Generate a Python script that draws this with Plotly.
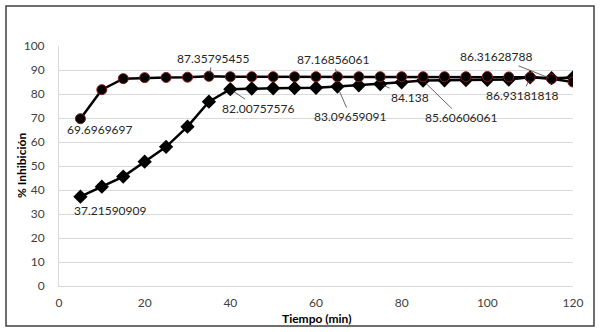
import plotly.graph_objects as go

tiempo = [5, 10, 15, 20, 25, 30, 35, 40, 45, 50, 55, 60, 65, 70, 75, 80, 85, 90, 95, 100, 105, 110, 115, 120]
serie_circulos = [69.6969697, 81.8, 86.4, 86.8, 86.9, 87.0, 87.35795455, 87.2, 87.2, 87.2, 87.2, 87.2,
                  87.16856061, 87.2, 87.2, 87.2, 87.2, 87.2, 87.2, 87.3, 87.1, 87.0, 86.31628788, 85.0]
serie_diamantes = [37.21590909, 41.4, 45.6, 51.8, 58.0, 66.4, 76.8, 82.00757576, 82.3, 82.4, 82.5, 82.6,
                   83.09659091, 83.6, 84.138, 84.9, 85.60606061, 85.7, 85.8, 85.9, 86.0, 86.93181818, 86.6, 86.9]

x_ticks = [0, 20, 40, 60, 80, 100, 120]
y_ticks = [0, 10, 20, 30, 40, 50, 60, 70, 80, 90, 100]
x_title = "Tiempo (min)"
y_title = "% Inhibición"

# labelled points: (series, index, text offset x, offset y, leader line)
etiquetas = [
    ("c", 0, 20, 11, False),
    ("d", 0, 30, 14, False),
    ("c", 6, 4, -18, True),
    ("d", 7, 28, 19, True),
    ("c", 12, -4, -17, True),
    ("d", 12, 13, 30, True),
    ("d", 14, 30, 13, True),
    ("d", 16, 38, 37, True),
    ("c", 22, -56, -22, True),
    ("d", 21, -8, 18, True),
]

FONT = "Lato, Open Sans, sans-serif"

fig = go.Figure()
fig.add_trace(go.Scatter(
    x=tiempo, y=serie_diamantes, mode="lines+markers",
    line=dict(color="black", width=2.5),
    marker=dict(symbol="diamond", size=11, color="black"),
    showlegend=False))
fig.add_trace(go.Scatter(
    x=tiempo, y=serie_circulos, mode="lines+markers",
    line=dict(color="black", width=2.5),
    marker=dict(symbol="circle", size=10, color="black", line=dict(color="#8b1a1a", width=1)),
    showlegend=False))

for s, i, ax, ay, leader in etiquetas:
    vals = serie_circulos if s == "c" else serie_diamantes
    v = vals[i]
    txt = f"{v:.10g}"
    fnt = dict(family=FONT, size=12, color="#262626")
    if leader:
        fig.add_annotation(
            x=tiempo[i], y=v, xref="x", yref="y", text=txt,
            showarrow=True, arrowhead=0, arrowwidth=0.8, arrowcolor="#404040",
            ax=ax, ay=ay, standoff=3, font=fnt)
    else:
        fig.add_annotation(
            x=tiempo[i], y=v, xref="x", yref="y", text=txt,
            showarrow=False, xshift=ax, yshift=-ay, font=fnt)

title_font = dict(family=FONT, size=12, color="black")
fig.add_annotation(xref="paper", yref="paper", x=0.5, y=-32/240, text=f"<b>{x_title}</b>",
                   showarrow=False, font=title_font, xanchor="center", yanchor="middle")
fig.add_annotation(xref="paper", yref="paper", x=-38/514, y=0.5, text=f"<b>{y_title}</b>",
                   showarrow=False, font=title_font, textangle=-90,
                   xanchor="center", yanchor="middle")

fig.update_layout(
    width=600, height=332,
    margin=dict(l=59, r=27, t=46, b=46),
    paper_bgcolor="white", plot_bgcolor="white",
    font=dict(family=FONT, size=12, color="#404040"),
    xaxis=dict(range=[0, 120], tickvals=x_ticks, showgrid=False, zeroline=False,
               showline=True, linecolor="#d9d9d9", linewidth=1, ticks="",
               ticklabelstandoff=6, automargin=False),
    yaxis=dict(range=[0, 100], tickvals=y_ticks, showgrid=True, gridcolor="#d9d9d9",
               gridwidth=1, zeroline=False, showline=True, linecolor="#d9d9d9",
               ticks="", ticklabelstandoff=11, automargin=False),
    shapes=[dict(type="rect", xref="paper", yref="paper", x0=-53/514, x1=1+21/514,
                 y0=-40/240, y1=1+40/240, line=dict(color="#404040", width=1.5))],
)

fig.write_html("out.html")
